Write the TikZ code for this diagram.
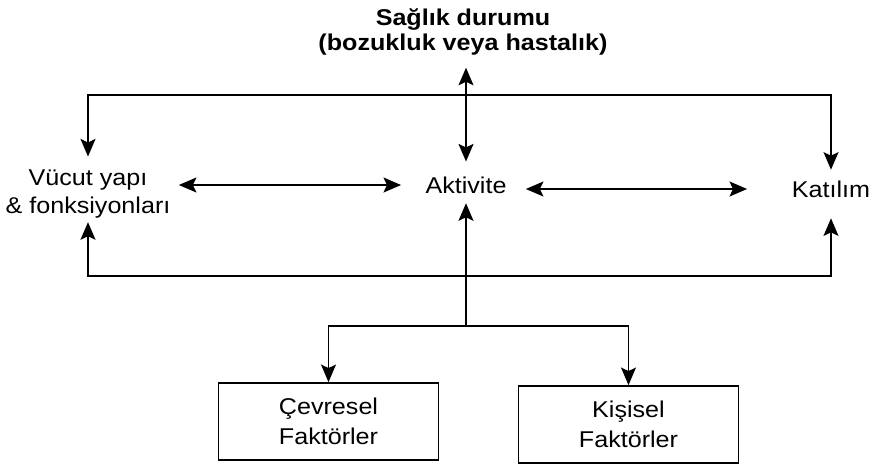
\documentclass[tikz,border=0pt]{standalone}
\usepackage{fontspec}
\setmainfont{Liberation Sans}[FakeStretch=1.1]
\usetikzlibrary{arrows.meta}

\begin{document}
\begin{tikzpicture}[x=0.02cm,y=-0.02cm,line width=1pt,
  >={Stealth[length=10pt,width=8.5pt,inset=2pt]},
  every node/.style={font=\fontsize{13}{16}\selectfont,inner sep=0pt,align=center},
  kutu/.style={draw,line width=1pt,minimum width=4.4cm,minimum height=1.54cm,
    font=\fontsize{13}{17}\selectfont}]

% Picture frame
\useasboundingbox (0,0) rectangle (877,468);

% Draw the labels
\node[font=\fontsize{13}{14.2}\selectfont\bfseries] (saglik) at (463,31.6) {Sağlık durumu\\(bozukluk veya hastalık)};
\node (vucut) at (88,194) {Vücut yapı\\\& fonksiyonları};
\node (akt) at (466,185) {Aktivite};
\node (kat) at (831,189) {Katılım};

% Draw the factor boxes
\node[kutu] (cevre) at (328.5,421.5) {Çevresel\\Faktörler};
\node[kutu] (kisi) at (628.5,424.5) {Kişisel\\Faktörler};

% Corner points of the lines
\coordinate (ust) at (463,95);
\coordinate (alt) at (463,276);
\coordinate (kol) at (468,326);

% Draw top and bottom loops
\draw[<->,shorten <=7pt,shorten >=5.7pt] (vucut.north) |- (ust) -| (kat.north);
\draw[<->,shorten <=1.7pt,shorten >=11.4pt] (vucut.south) |- (alt) -| (kat.south);

% Draw arrows around Aktivite
\draw[<->,shorten <=8.1pt,shorten >=6.8pt] (akt.north) -- (akt.north |- saglik.south);
\draw[<->,shorten <=13.4pt,shorten >=4.3pt] (akt.west) -- (akt.west -| vucut.east);
\draw[<->,shorten <=10.5pt,shorten >=25pt] (akt.east |- kat.west) -- (kat.west);

% Draw the factor lines
\draw[->,shorten >=5.1pt] (akt.south |- kol) -- (akt.south);
\draw[<->] (cevre.north) |- (kol) -| (kisi.north);

\end{tikzpicture}
\end{document}
